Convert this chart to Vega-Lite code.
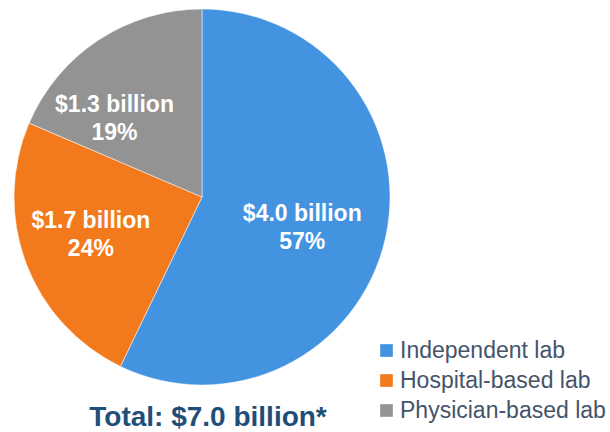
{
  "$schema": "https://vega.github.io/schema/vega-lite/v6.json",
  "width": 404,
  "height": 394,
  "autosize": {"type": "none"},
  "padding": {"left": 0, "top": 0, "right": 206, "bottom": 38},
  "background": "white",
  "view": {"stroke": null},
  "title": {
    "text": "Total: $7.0 billion*",
    "orient": "bottom",
    "anchor": "middle",
    "offset": -19,
    "font": "Liberation Sans",
    "fontSize": 28,
    "fontWeight": "bold",
    "color": "#1f4e79",
    "dx": 6
  },
  "data": {
    "values": [
      {"type": "Independent lab", "value": 4.0, "order": 1, "label": "$4.0 billion\n57%"},
      {"type": "Hospital-based lab", "value": 1.7, "order": 2, "label": "$1.7 billion\n24%"},
      {"type": "Physician-based lab", "value": 1.3, "order": 3, "label": "$1.3 billion\n19%"}
    ]
  },
  "encoding": {
    "theta": {"field": "value", "type": "quantitative", "stack": true},
    "order": {"field": "order", "type": "quantitative"},
    "color": {
      "field": "type",
      "type": "nominal",
      "sort": ["Independent lab", "Hospital-based lab", "Physician-based lab"],
      "scale": {
        "domain": ["Independent lab", "Hospital-based lab", "Physician-based lab"],
        "range": ["#4393e0", "#f37a1c", "#939393"]
      },
      "legend": {
        "title": null,
        "orient": "none",
        "legendX": 375,
        "legendY": 339,
        "padding": 0,
        "symbolType": "square",
        "symbolSize": 160,
        "symbolStrokeWidth": 0,
        "labelFont": "Liberation Sans",
        "labelFontSize": 23,
        "labelColor": "#44546a",
        "labelOffset": 2,
        "rowPadding": 6,
        "labelLimit": 300
      }
    }
  },
  "layer": [
    {
      "mark": {"type": "arc", "outerRadius": 188, "stroke": "white", "strokeWidth": 0.5}
    },
    {
      "mark": {
        "type": "text", "radius": 108, "dx": -5, "dy": -7,
        "font": "Liberation Sans", "fontSize": 23, "fontWeight": "bold",
        "lineBreak": "\n", "lineHeight": 28, "align": "center", "baseline": "middle"
      },
      "encoding": {
        "text": {"condition": {"test": "datum.order == 1", "field": "label"}, "value": ""},
        "color": {"value": "white"}
      }
    },
    {
      "mark": {
        "type": "text", "radius": 108, "dx": -10, "dy": -14,
        "font": "Liberation Sans", "fontSize": 23, "fontWeight": "bold",
        "lineBreak": "\n", "lineHeight": 28, "align": "center", "baseline": "middle"
      },
      "encoding": {
        "text": {"condition": {"test": "datum.order == 2", "field": "label"}, "value": ""},
        "color": {"value": "white"}
      }
    },
    {
      "mark": {
        "type": "text", "radius": 108, "dx": -28, "dy": -2,
        "font": "Liberation Sans", "fontSize": 23, "fontWeight": "bold",
        "lineBreak": "\n", "lineHeight": 28, "align": "center", "baseline": "middle"
      },
      "encoding": {
        "text": {"condition": {"test": "datum.order == 3", "field": "label"}, "value": ""},
        "color": {"value": "white"}
      }
    }
  ]
}
